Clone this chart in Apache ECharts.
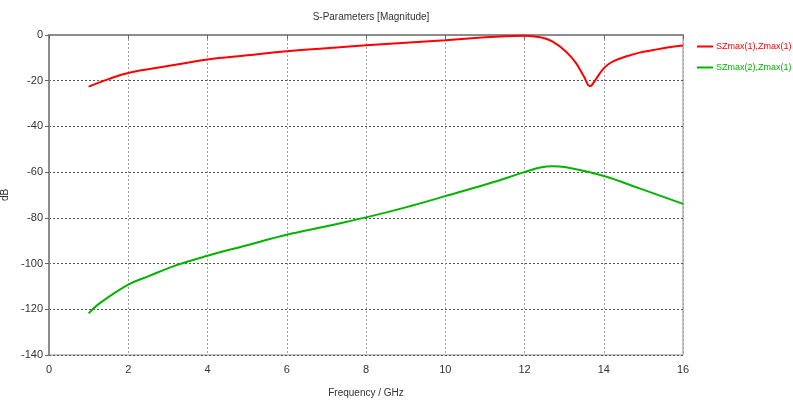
<!DOCTYPE html>
<html>
<head>
<meta charset="utf-8">
<script src="https://cdn.jsdelivr.net/npm/echarts@6/dist/echarts.min.js"></script>
<style>
  html, body { margin: 0; padding: 0; background: #fff; }
  #chart { width: 793px; height: 406px; }
</style>
</head>
<body>
<div id="chart"></div>
<script>
// S11 magnitude (dB) vs frequency (GHz)
const freqS11 = [1, 1.5, 2, 3, 4, 5, 6, 7, 8, 9, 10, 11, 11.5, 12, 12.4, 12.7, 13.05, 13.3, 13.5, 13.65, 13.8, 13.9, 14, 14.1, 14.25, 14.6, 14.9, 15.25, 15.6, 16];
const magS11  = [-22.6, -19.3, -16.6, -13.6, -10.7, -8.9, -7.1, -5.8, -4.5, -3.4, -2.3, -1.0, -0.5, -0.3, -1.0, -2.8, -7.3, -12.3, -18.2, -22.4, -19.4, -16.8, -14.6, -13.0, -11.4, -9.2, -7.7, -6.6, -5.5, -4.6];

// S21 magnitude (dB) vs frequency (GHz)
const freqS21 = [1, 1.3, 2, 2.5, 3.2, 4, 5, 6, 7, 8, 9, 10, 11.1, 12, 12.4, 12.7, 13.05, 14, 14.9, 16];
const magS21  = [-121.8, -117.1, -109.2, -105.6, -100.8, -96.6, -92.0, -87.4, -83.7, -79.8, -75.4, -70.5, -65.0, -60.0, -58.0, -57.4, -57.9, -61.7, -67.1, -73.9];

const seriesNames = ['SZmax(1),Zmax(1)', 'SZmax(2),Zmax(1)'];
const seriesColors = ['#ff0000', '#00b400'];

const pairs = (xs, ys) => xs.map((x, i) => [x, ys[i]]);

const font = '"Liberation Sans", Arial, sans-serif';
const chart = echarts.init(document.getElementById('chart'), null, { renderer: 'canvas' });

chart.setOption({
  animation: false,
  backgroundColor: '#ffffff',
  title: {
    text: 'S-Parameters [Magnitude]',
    left: 366, top: 7, textAlign: 'center',
    textStyle: { fontSize: 10, fontWeight: 'normal', color: '#333', fontFamily: font }
  },
  legend: {
    orient: 'vertical',
    left: 697, top: 42,
    padding: 0,
    itemGap: 12,
    itemWidth: 16, itemHeight: 2,
    icon: 'rect',
    textStyle: { fontSize: 9, fontFamily: font, padding: [0, 0, 0, -2] },
    data: seriesNames.map((n, i) => ({ name: n, textStyle: { color: seriesColors[i] } }))
  },
  grid: {
    left: 49, right: 110, top: 35, bottom: 51,
    containLabel: false, outerBoundsMode: 'none',
    show: true, borderColor: '#8c8c8c', borderWidth: 1, backgroundColor: '#fff'
  },
  xAxis: {
    type: 'value', min: 0, max: 16, interval: 2,
    name: 'Frequency / GHz', nameLocation: 'middle', nameGap: 33,
    nameTextStyle: { fontSize: 10, color: '#333', fontFamily: font },
    axisLine: { lineStyle: { color: '#8c8c8c', width: 2 } },
    axisTick: { show: true, length: 4, lineStyle: { color: '#666' } },
    axisLabel: { fontSize: 11, color: '#333', fontFamily: font, margin: 9 },
    splitLine: { show: true, lineStyle: { color: '#a0a0a0', type: [2, 2], width: 1 } }
  },
  yAxis: {
    type: 'value', min: -140, max: 0, interval: 20,
    name: 'dB', nameLocation: 'middle', nameGap: 33, nameRotate: 90,
    nameTextStyle: { fontSize: 10, color: '#333', fontFamily: font },
    axisLine: { show: true, lineStyle: { color: '#8c8c8c', width: 2 } },
    axisTick: { show: true, length: 4, lineStyle: { color: '#666' } },
    axisLabel: { fontSize: 11, color: '#333', fontFamily: font, margin: 6 },
    splitLine: { show: true, lineStyle: { color: '#555', type: [2, 2], width: 1 } }
  },
  series: [
    {
      name: seriesNames[0], type: 'line', showSymbol: false,
      smooth: 0.4,
      lineStyle: { color: seriesColors[0], width: 2 },
      itemStyle: { color: seriesColors[0] },
      data: pairs(freqS11, magS11)
    },
    {
      name: seriesNames[1], type: 'line', showSymbol: false,
      smooth: 0.4,
      lineStyle: { color: seriesColors[1], width: 2 },
      itemStyle: { color: seriesColors[1] },
      data: pairs(freqS21, magS21)
    }
  ]
});
</script>
</body>
</html>
